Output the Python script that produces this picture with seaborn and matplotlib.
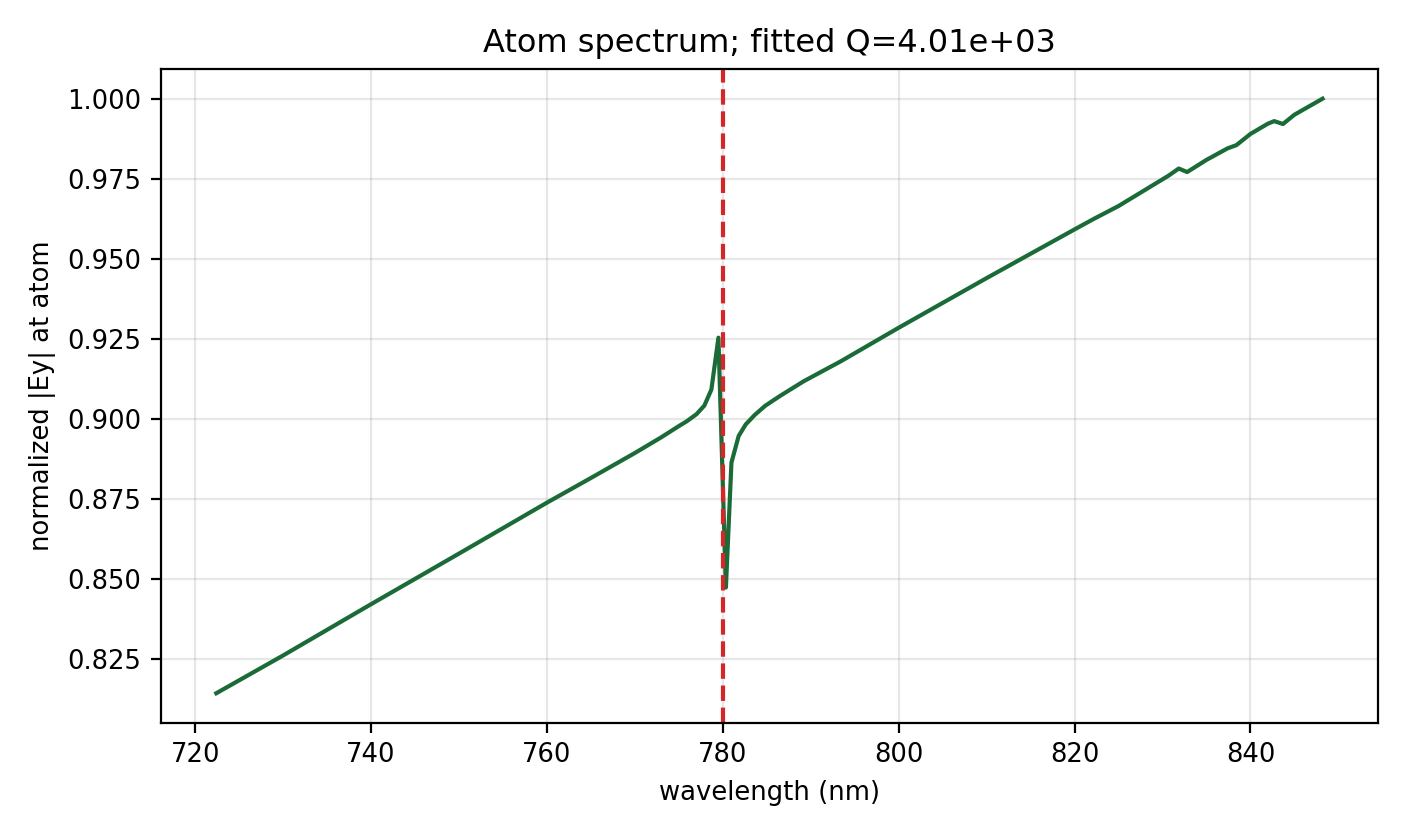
import matplotlib
matplotlib.use("Agg")
import matplotlib.pyplot as plt
import seaborn as sns
import numpy as np

wavelength_nm = [722.4, 730.0, 740.0, 750.0, 760.0, 765.0, 770.0, 773.0, 775.0, 775.9,
                 777.0, 777.9, 778.7, 779.5, 780.35, 780.98, 781.8, 782.6, 783.6, 784.8,
                 786.5, 789.2, 793.4, 800.0, 810.0, 820.0, 822.2, 825.0, 830.7, 831.85,
                 832.8, 835.0, 837.4, 838.4, 840.0, 841.98, 842.7, 843.7, 845.0, 848.2]
field_norm = [0.8144, 0.8262, 0.8422, 0.8580, 0.8739, 0.8816, 0.8894, 0.8943, 0.8978, 0.8993,
              0.9015, 0.9042, 0.9092, 0.9254, 0.8474, 0.8864, 0.8947, 0.8983, 0.9012, 0.9041,
              0.9072, 0.9118, 0.9180, 0.9285, 0.9440, 0.9592, 0.9625, 0.9665, 0.9760, 0.9782,
              0.9771, 0.9809, 0.9845, 0.9855, 0.9890, 0.9922, 0.9930, 0.9921, 0.9950, 1.0000]
resonance_nm = 780.0
title_text = "Atom spectrum; fitted Q=4.01e+03"

fig = plt.figure(figsize=(7.03, 4.18), dpi=200)
ax = fig.add_axes([0.1145, 0.1352, 0.8655, 0.7823])
sns.lineplot(x=wavelength_nm, y=field_norm, ax=ax, color="#1a6b37", lw=1.5,
             estimator=None, sort=False)
ax.axvline(resonance_nm, color="#d62728", ls="--", lw=1.5)
ax.grid(True, alpha=0.3)
ax.set_xticks([720, 740, 760, 780, 800, 820, 840])
ax.set_yticks([0.825, 0.85, 0.875, 0.9, 0.925, 0.95, 0.975, 1.0])
ax.yaxis.set_major_formatter(matplotlib.ticker.FormatStrFormatter("%.3f"))
ax.tick_params(labelsize=9.3)
ax.set_xlabel("wavelength (nm)", fontsize=9.3)
ax.set_ylabel("normalized |Ey| at atom", fontsize=9.3)
ax.set_title(title_text, fontsize=11.5)
fig.savefig("out.png", dpi=200)
